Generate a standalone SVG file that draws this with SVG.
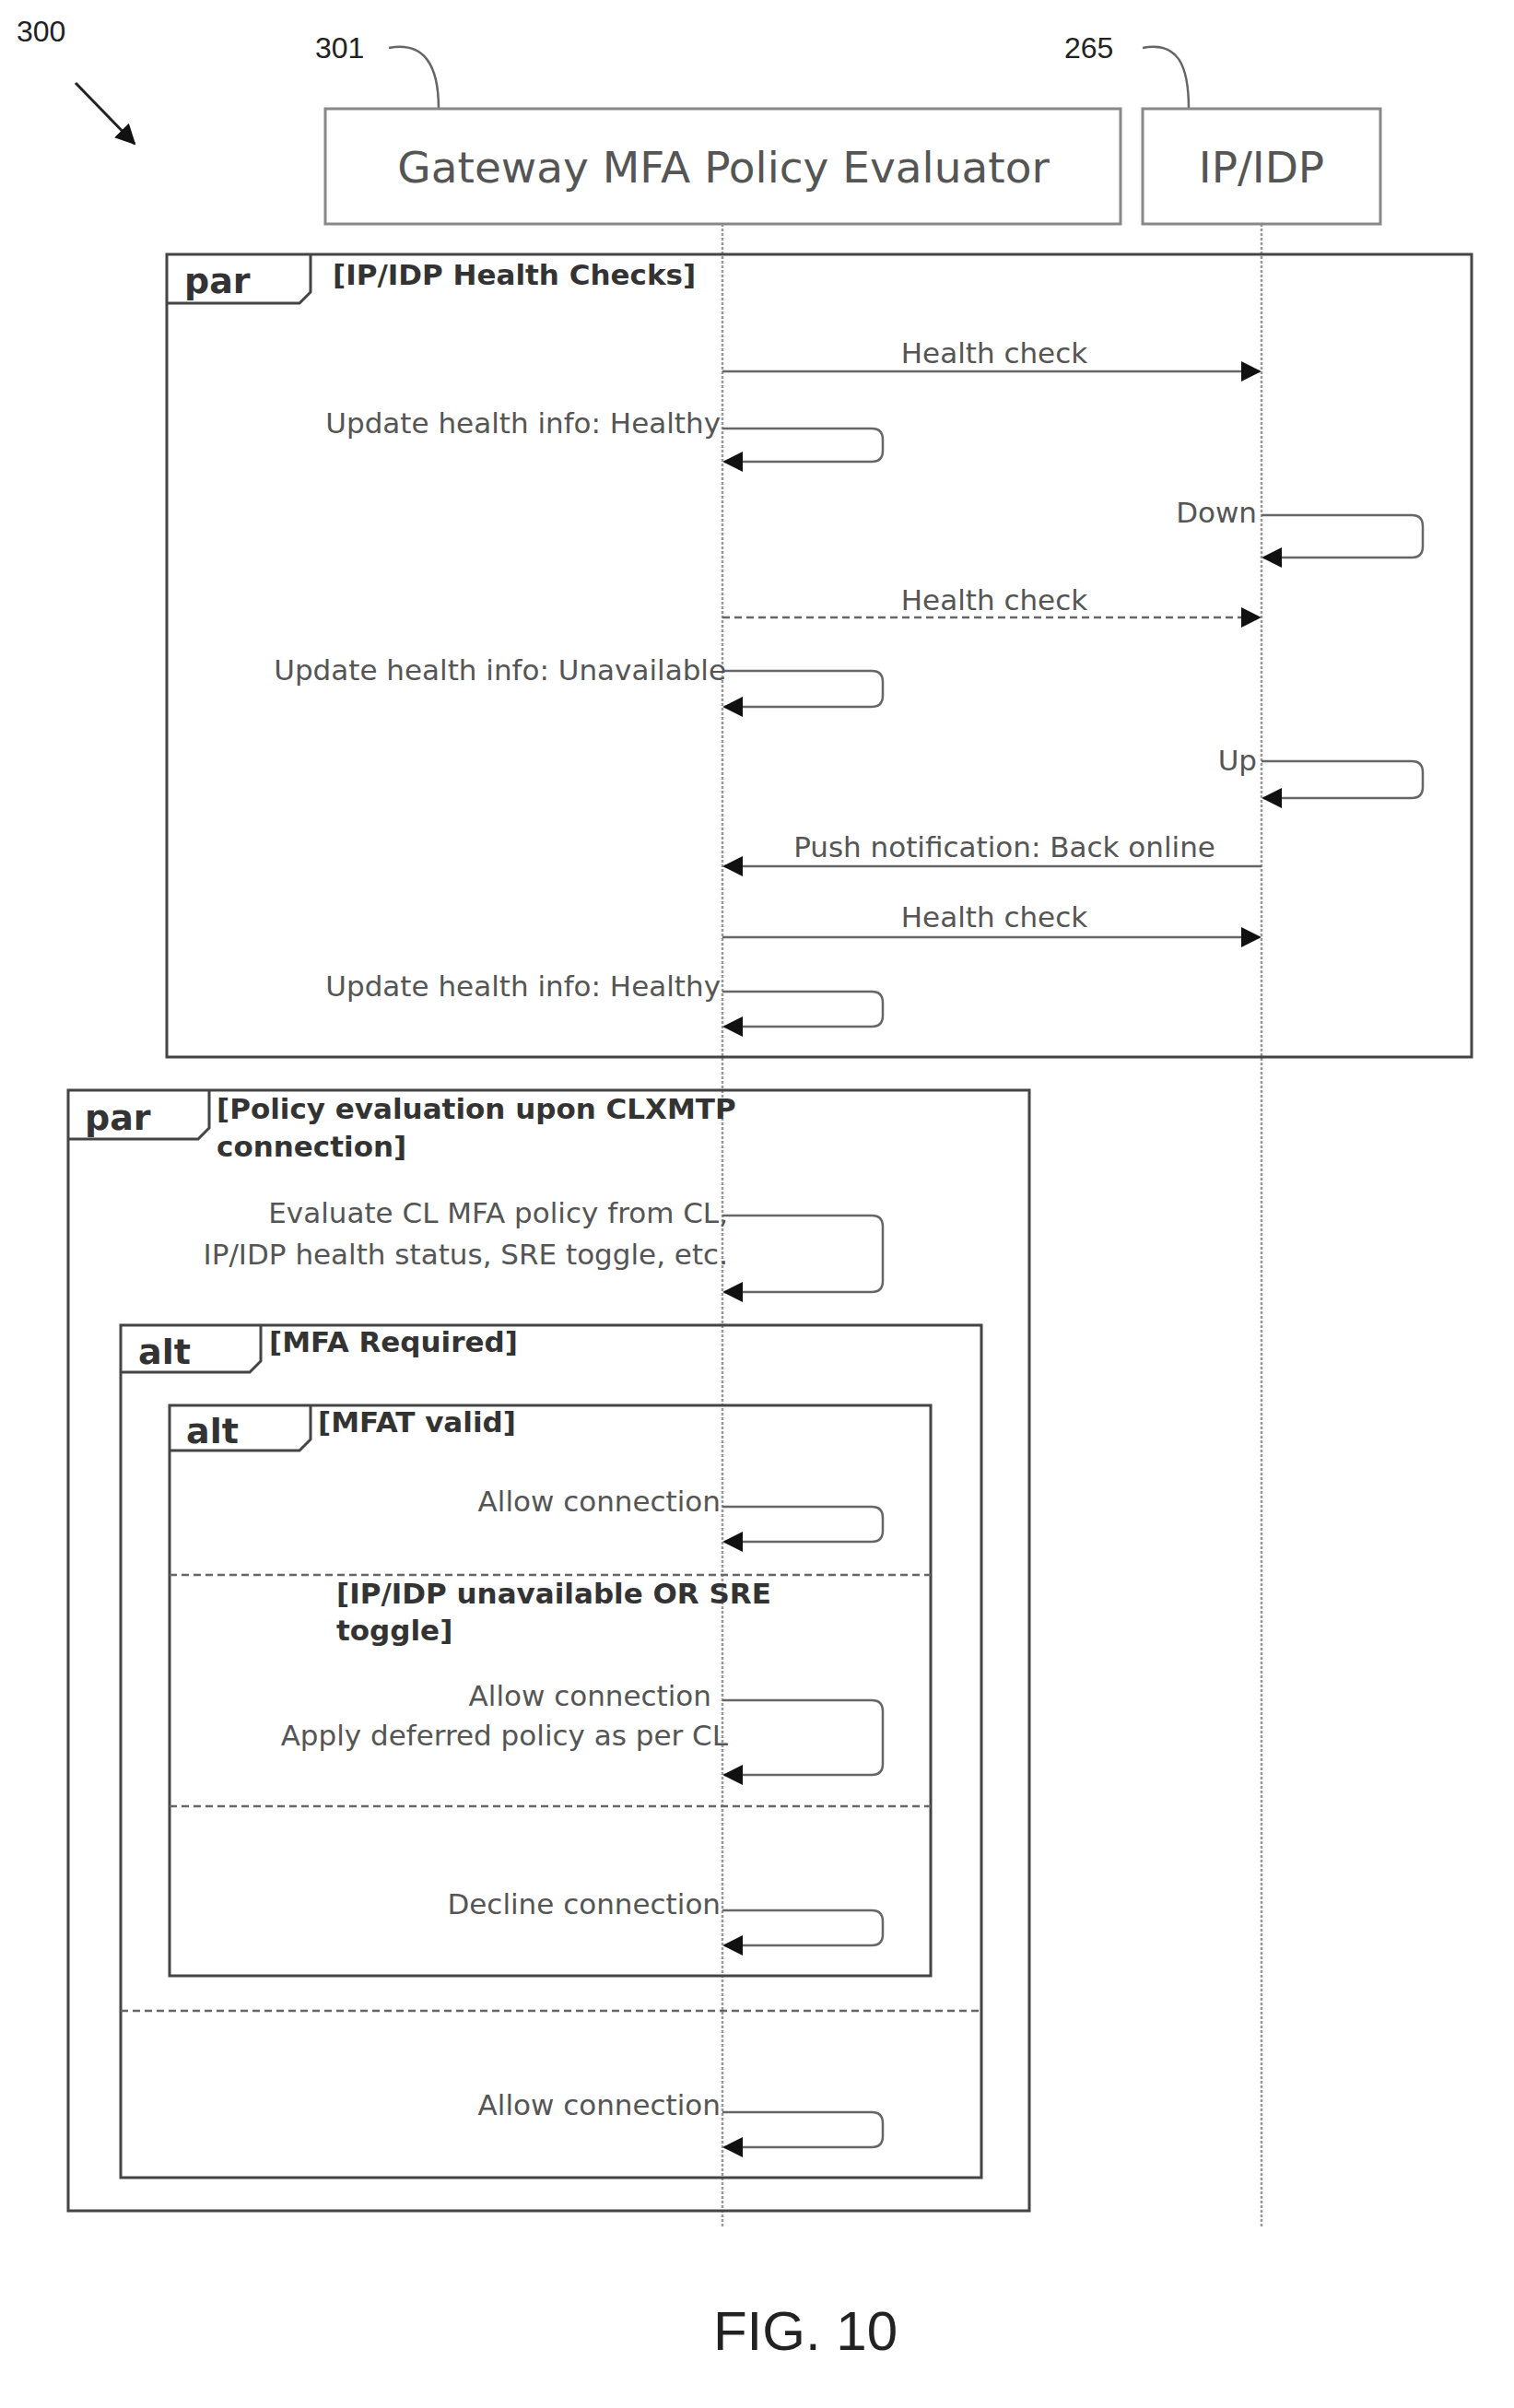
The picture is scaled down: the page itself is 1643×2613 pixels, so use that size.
<svg xmlns="http://www.w3.org/2000/svg" width="1643" height="2613" viewBox="0 0 1643 2613">
<defs>
<style>
text{font-family:"DejaVu Sans",sans-serif;fill:#555}
.m{font-size:31px}
.r{text-anchor:end}
.c{text-anchor:middle}
.b{font-weight:bold;font-size:31px;fill:#333}
.tab{font-weight:bold;font-size:38px;fill:#333}
.fr{fill:none;stroke:#444;stroke-width:3}
.ln{fill:none;stroke:#666;stroke-width:2.5}
.dl{fill:none;stroke:#666;stroke-width:2.5;stroke-dasharray:8 5}
.life{stroke:#999;stroke-width:2.5;stroke-dasharray:3 2}
.box{fill:#fff;stroke:#888;stroke-width:3}
</style>
<marker id="ah" viewBox="0 0 12 12" refX="11" refY="6" markerWidth="22" markerHeight="22" markerUnits="userSpaceOnUse" orient="auto"><path d="M0,0L12,6L0,12z" fill="#111"/></marker>
</defs>
<g id="ref300"><text x="18" y="45" style="font-family:'Liberation Sans',sans-serif;font-size:32px;fill:#222">300</text><path d="M82,90L146,156" stroke="#222" stroke-width="3" marker-end="url(#ah)"/></g>
<g id="ref301"><text x="342" y="63" style="font-family:'Liberation Sans',sans-serif;font-size:32px;fill:#222">301</text><path d="M422,52C460,45 476,70 476,118" class="ln" stroke="#222"/></g>
<g id="ref265"><text x="1155" y="63" style="font-family:'Liberation Sans',sans-serif;font-size:32px;fill:#222">265</text><path d="M1240,52C1278,45 1290,70 1290,118" class="ln"/></g>
<g id="lifelines"><line class="life" x1="784" y1="243" x2="784" y2="2418"/><line class="life" x1="1369" y1="243" x2="1369" y2="2418"/></g>
<g id="gw"><rect class="box" x="353" y="118" width="863" height="125"/><text x="785" y="198" class="c" style="font-size:47px">Gateway MFA Policy Evaluator</text></g>
<g id="idp"><rect class="box" x="1240" y="118" width="258" height="125"/><text x="1369" y="198" class="c" style="font-size:47px">IP/IDP</text></g>
<g id="par1"><rect class="fr" x="181" y="276" width="1416" height="871"/><path class="fr" d="M181,329H325L337,317V276"/><text x="200" y="318" class="tab">par</text><text x="361" y="309" class="b">[IP/IDP Health Checks]</text></g>
<g id="par2"><rect class="fr" x="74" y="1183" width="1043" height="1216"/><path class="fr" d="M74,1236H215L227,1224V1183"/><text x="92" y="1226" class="tab">par</text><text x="235" y="1214" class="b">[Policy evaluation upon CLXMTP</text><text x="235" y="1255" class="b">connection]</text></g>
<g id="alt1"><rect class="fr" x="131" y="1438" width="934" height="925"/><path class="fr" d="M131,1489H271L283,1477V1438"/><text x="150" y="1480" class="tab">alt</text><text x="292" y="1467" class="b">[MFA Required]</text><line class="dl" x1="131" y1="2182" x2="1065" y2="2182"/></g>
<g id="alt2"><rect class="fr" x="184" y="1525" width="826" height="619"/><path class="fr" d="M184,1574H325L337,1562V1525"/><text x="202" y="1566" class="tab">alt</text><text x="345" y="1554" class="b">[MFAT valid]</text><line class="dl" x1="184" y1="1709" x2="1010" y2="1709"/><text x="365" y="1740" class="b">[IP/IDP unavailable OR SRE</text><text x="365" y="1780" class="b">toggle]</text><line class="dl" x1="184" y1="1960" x2="1010" y2="1960"/></g>
<g id="connectors">
<line class="ln" x1="784" y1="403" x2="1367" y2="403" marker-end="url(#ah)"/>
<path class="ln" d="M784,465H946Q958,465 958,477V489Q958,501 946,501H786" marker-end="url(#ah)"/>
<path class="ln" d="M1369,559H1532Q1544,559 1544,571V593Q1544,605 1532,605H1371" marker-end="url(#ah)"/>
<line class="dl" x1="784" y1="670" x2="1367" y2="670" marker-end="url(#ah)"/>
<path class="ln" d="M784,728H946Q958,728 958,740V755Q958,767 946,767H786" marker-end="url(#ah)"/>
<path class="ln" d="M1369,826H1532Q1544,826 1544,838V854Q1544,866 1532,866H1371" marker-end="url(#ah)"/>
<line class="ln" x1="1369" y1="940" x2="786" y2="940" marker-end="url(#ah)"/>
<line class="ln" x1="784" y1="1017" x2="1367" y2="1017" marker-end="url(#ah)"/>
<path class="ln" d="M784,1076H946Q958,1076 958,1088V1102Q958,1114 946,1114H786" marker-end="url(#ah)"/>
<path class="ln" d="M784,1319H946Q958,1319 958,1331V1390Q958,1402 946,1402H786" marker-end="url(#ah)"/>
<path class="ln" d="M784,1635H946Q958,1635 958,1647V1661Q958,1673 946,1673H786" marker-end="url(#ah)"/>
<path class="ln" d="M784,1845H946Q958,1845 958,1857V1914Q958,1926 946,1926H786" marker-end="url(#ah)"/>
<path class="ln" d="M784,2073H946Q958,2073 958,2085V2099Q958,2111 946,2111H786" marker-end="url(#ah)"/>
<path class="ln" d="M784,2292H946Q958,2292 958,2304V2318Q958,2330 946,2330H786" marker-end="url(#ah)"/>
</g>
<g id="labels">
<text x="1079" y="394" class="m c">Health check</text>
<text x="782" y="470" class="m r">Update health info: Healthy</text>
<text x="1364" y="567" class="m r">Down</text>
<text x="1079" y="662" class="m c">Health check</text>
<text x="788" y="738" class="m r">Update health info: Unavailable</text>
<text x="1364" y="836" class="m r">Up</text>
<text x="1090" y="930" class="m c">Push notification: Back online</text>
<text x="1079" y="1006" class="m c">Health check</text>
<text x="782" y="1081" class="m r">Update health info: Healthy</text>
<text x="790" y="1327" class="m r">Evaluate CL MFA policy from CL,</text>
<text x="790" y="1372" class="m r">IP/IDP health status, SRE toggle, etc.</text>
<text x="782" y="1640" class="m r">Allow connection</text>
<text x="772" y="1851" class="m r">Allow connection</text>
<text x="790" y="1894" class="m r">Apply deferred policy as per CL</text>
<text x="782" y="2077" class="m r">Decline connection</text>
<text x="782" y="2295" class="m r">Allow connection</text>
</g>
<text x="874" y="2550" class="c" style="font-family:'Liberation Sans Narrow','Liberation Sans',sans-serif;font-size:60px;fill:#222">FIG. 10</text>
</svg>
